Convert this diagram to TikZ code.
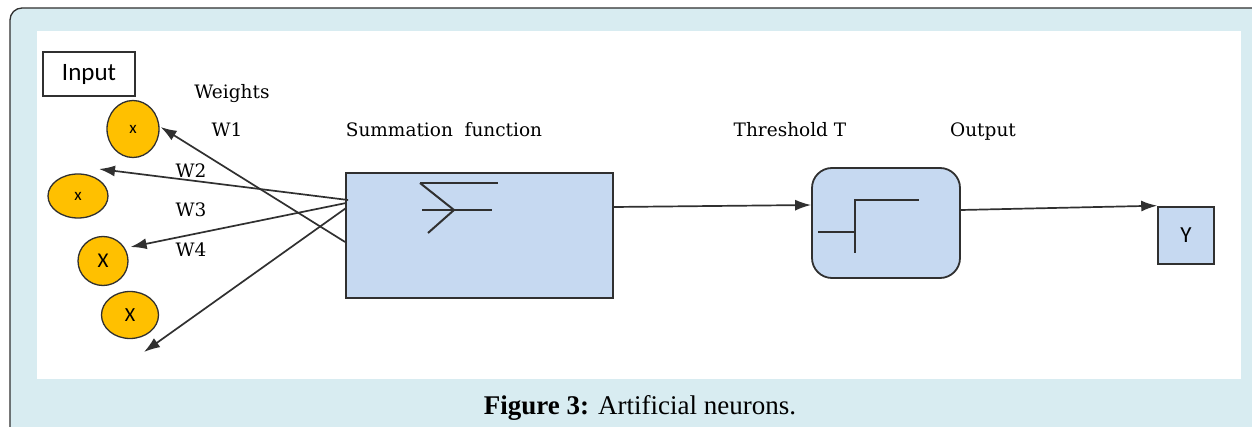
\documentclass[tikz,border=0pt]{standalone}
\usepackage{fontspec}
\setmainfont{DejaVu Serif}
\newfontfamily\capfont{Liberation Serif}
\newfontfamily\sansf{Carlito}
\usetikzlibrary{arrows.meta,shapes.geometric}
\definecolor{panel}{HTML}{D8ECF1}
\definecolor{boxblue}{HTML}{C6D9F1}
\definecolor{gold}{HTML}{FFC000}
\definecolor{edge}{HTML}{303030}
\tikzset{
  arr/.style={draw=edge, line width=1.7pt, -{Latex[length=16pt,width=11pt]}},
  blk/.style={draw=edge, line width=1.8pt, fill=boxblue, inner sep=0pt},
  inp/.style={draw=edge, line width=1.3pt, fill=gold, ellipse, inner sep=0pt},
  lbl/.style={font=\fontsize{18.5}{20}\selectfont, inner sep=0pt, anchor=base},
  sym/.style={draw=edge, line width=2pt}
}
\begin{document}
\begin{tikzpicture}[x=1pt,y=-1pt]
  \useasboundingbox (0,0) rectangle (1252,427);
  \clip (0,0) rectangle (1252,427);
  % framed panel and white drawing area
  \draw[fill=panel, draw=edge, line width=1.3pt, rounded corners=12pt] (10,8) rectangle (1270,445);
  \fill[white] (37,31) rectangle (1241,379);

  % input label
  \node[draw=edge, line width=1.6pt, minimum width=92pt, minimum height=44pt, inner sep=0pt,
        font=\sansf\fontsize{25}{26}\selectfont] (input) at (89,74) {Input};

  % input neurons
  \node[inp, minimum width=52pt, minimum height=57pt, font=\sansf\fontsize{17}{18}\selectfont] (x1) at (133,129) {x};
  \node[inp, minimum width=60pt, minimum height=44pt, font=\sansf\fontsize{17}{18}\selectfont] (x2) at (78,196) {x};
  \node[inp, minimum width=50pt, minimum height=49pt, font=\sansf\fontsize{21}{22}\selectfont] (x3) at (103,261) {X};
  \node[inp, minimum width=57pt, minimum height=47pt, font=\sansf\fontsize{20}{22}\selectfont] (x4) at (130,315) {X};

  % weight labels (baselines)
  \node[lbl] (wts) at (232,99) {Weights};
  \node[lbl] (w1) at (227,137) {W1};
  \node[lbl] (w2) at (191,178) {W2};
  \node[lbl] (w3) at (191,217) {W3};
  \node[lbl] (w4) at (191,257) {W4};

  % summation block
  \node[blk, minimum width=267pt, minimum height=125pt] (sum) at (479.5,235.5) {};
  \node[lbl] (sumlbl) at (444,137) {Summation\ \ function};
  \draw[sym] (420,183) -- (498,183);
  \draw[sym] (420,183) -- (454,210) -- (428,233);
  \draw[sym] (422,210) -- (492,210);

  % threshold block
  \node[blk, rounded corners=20pt, minimum width=148pt, minimum height=110pt] (thr) at (886,223) {};
  \node[lbl] (thrlbl) at (790,137) {Threshold T};
  \draw[sym] (818,232) -- (855,232);
  \draw[sym] (855,253) -- (855,200) -- (919,200);

  % output block
  \node[blk, line width=1.6pt, minimum width=56pt, minimum height=57pt,
        font=\sansf\fontsize{23}{24}\selectfont] (y) at (1186,235.5) {Y};
  \node[lbl] (outlbl) at (983,137) {Output};

  % weighted connections
  \coordinate (s1) at ([yshift=-6.5pt]sum.west);
  \coordinate (s2) at ([xshift=3pt,yshift=35.5pt]sum.west);
  \coordinate (s3) at ([xshift=1pt,yshift=32.5pt]sum.west);
  \coordinate (s4) at ([xshift=1pt,yshift=27.5pt]sum.west);
  \coordinate (t2) at (99,169);
  \coordinate (t4) at (144,352);
  \draw[arr] (s1) -- ([xshift=1pt,yshift=2pt]x1.east);
  \draw[arr] (s2) -- (t2);
  \draw[arr] (s3) -- ([xshift=2pt,yshift=14pt]x3.east);
  \draw[arr] (s4) -- (t4);

  % signal flow
  \draw[arr] ([yshift=28.5pt]sum.east) -- ([yshift=18pt]thr.west);
  \draw[arr] ([yshift=13pt]thr.east) -- ([yshift=0.5pt]y.north west);

  % caption
  \node[font=\capfont\fontsize{27}{29}\selectfont, inner sep=0pt] (cap) at (640,408)
    {\textbf{Figure 3:} Artificial neurons.};
\end{tikzpicture}
\end{document}
